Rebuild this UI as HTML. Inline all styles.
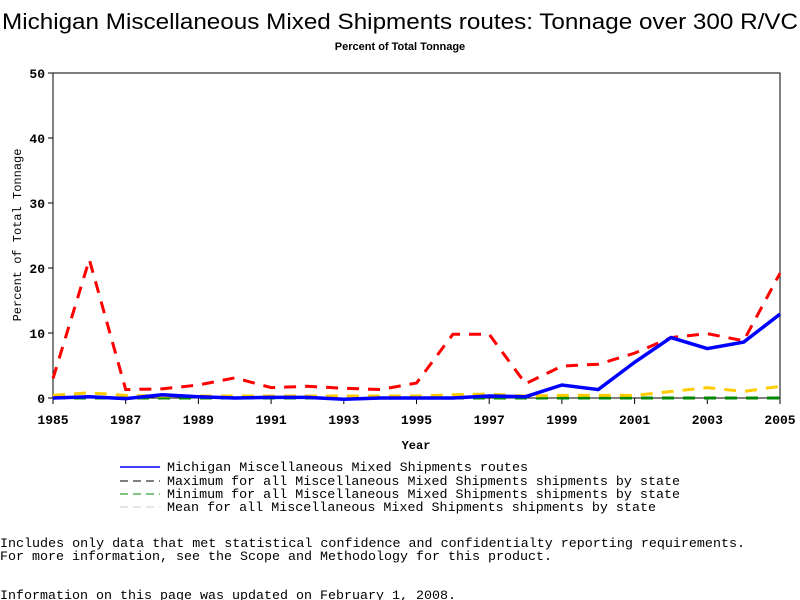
<!DOCTYPE html>
<html><head><meta charset="utf-8"><style>
body{margin:0;background:#fff;}
svg{display:block;font-family:"Liberation Mono",monospace;}
</style></head><body>
<svg id="c" width="800" height="600" viewBox="0 0 800 600">
<text x="400" y="29" text-anchor="middle" font-family="Liberation Sans, sans-serif" font-size="22" textLength="796" lengthAdjust="spacingAndGlyphs">Michigan Miscellaneous Mixed Shipments routes: Tonnage over 300 R/VC</text>
<text x="400" y="50" text-anchor="middle" font-family="Liberation Sans, sans-serif" font-size="11" font-weight="bold">Percent of Total Tonnage</text>
<g id="axes"></g>
<g id="series"></g>
<text x="416" y="449" text-anchor="middle" font-size="12" font-weight="bold">Year</text>
<text transform="translate(21,235) rotate(-90)" text-anchor="middle" font-size="12">Percent of Total Tonnage</text>
<g font-size="13">
<line x1="120" y1="467" x2="160" y2="467" stroke="#00f" stroke-width="1.5"/>
<text x="167" y="471" textLength="361" lengthAdjust="spacingAndGlyphs">Michigan Miscellaneous Mixed Shipments routes</text>
<line x1="120" y1="481" x2="160" y2="481" stroke="#000" stroke-dasharray="8,5"/>
<text x="167" y="485" textLength="513" lengthAdjust="spacingAndGlyphs">Maximum for all Miscellaneous Mixed Shipments shipments by state</text>
<line x1="120" y1="494" x2="160" y2="494" stroke="#080" stroke-dasharray="8,5"/>
<text x="167" y="498" textLength="513" lengthAdjust="spacingAndGlyphs">Minimum for all Miscellaneous Mixed Shipments shipments by state</text>
<line x1="120" y1="507" x2="160" y2="507" stroke="#ccc" stroke-dasharray="8,5"/>
<text x="167" y="511" textLength="489" lengthAdjust="spacingAndGlyphs">Mean for all Miscellaneous Mixed Shipments shipments by state</text>
</g>
<g font-size="13">
<text x="0" y="547" textLength="745" lengthAdjust="spacingAndGlyphs">Includes only data that met statistical confidence and confidentialty reporting requirements.</text>
<text x="0" y="560" textLength="552" lengthAdjust="spacingAndGlyphs">For more information, see the Scope and Methodology for this product.</text>
<text x="0" y="599" textLength="456" lengthAdjust="spacingAndGlyphs">Information on this page was updated on February 1, 2008.</text>
</g>
</svg>
<script>
const years=[1985,1986,1987,1988,1989,1990,1991,1992,1993,1994,1995,1996,1997,1998,1999,2000,2001,2002,2003,2004,2005];
const michigan=[0,0.2,-0.1,0.5,0.2,0,0.1,0.1,-0.2,0,0,0,0.3,0.2,2,1.3,5.5,9.3,7.6,8.6,12.9];
const maxVals=[3,21.3,1.3,1.4,2,3.1,1.6,1.8,1.5,1.3,2.3,9.8,9.8,2.2,4.9,5.2,6.9,9.3,9.9,8.8,19.2];
const minVals=[0,0,0,0,0,0,0,0,0,0,0,0,0,0,0,0,0,0,0,0,0];
const meanVals=[0.4,0.8,0.4,0.3,0.3,0.3,0.3,0.3,0.3,0.3,0.3,0.5,0.6,0.3,0.4,0.4,0.4,1,1.6,1,1.8];
const yTicks=[0,10,20,30,40,50];
const xTicks=[1985,1987,1989,1991,1993,1995,1997,1999,2001,2003,2005];
const X0=53,X1=780,Y0=398,Y1=73;
const xs=v=>X0+(v-1985)/20*(X1-X0);
const ys=v=>Y0-v/50*(Y0-Y1);
const NS='http://www.w3.org/2000/svg';
function mk(t,a,p){const e=document.createElementNS(NS,t);for(const k in a)e.setAttribute(k,a[k]);p.appendChild(e);return e;}
const ax=document.getElementById('axes');
let e=mk('rect',{x:X0,y:Y1,width:X1-X0,height:Y0-Y1,fill:'none',stroke:'#000'},ax);


yTicks.forEach(t=>{
 let l=mk('line',{x1:X0-5,x2:X0,y1:ys(t),y2:ys(t),stroke:'#000'},ax);
 
 
 let tx=mk('text',{x:X0-8,y:ys(t)+5,'text-anchor':'end','font-size':13,'font-weight':'bold'},ax);tx.textContent=t;
 
 
});
xTicks.forEach(t=>{
 let l=mk('line',{x1:xs(t),x2:xs(t),y1:Y0,y2:Y0+6,stroke:'#000'},ax);
 
 
 let tx=mk('text',{x:xs(t),y:Y0+26,'text-anchor':'middle','font-size':13,'font-weight':'bold'},ax);tx.textContent=t;
 
 
});
const sg=document.getElementById('series');
function line(vals,col,w,dash,name){
 const p=mk('polyline',{points:vals.map((v,i)=>xs(years[i])+','+ys(v)).join(' '),fill:'none',stroke:col,'stroke-width':w},sg);
 if(dash)p.setAttribute('stroke-dasharray',dash);
 
 
}
line(minVals,'#080',3,'12,9','min-line');
line(meanVals,'#fc0',3,'12,9','mean-line');
line(maxVals,'#f00',3,'12,9','max-line');
line(michigan,'#00f',3.5,null,'michigan-line');
</script>
</body></html>
